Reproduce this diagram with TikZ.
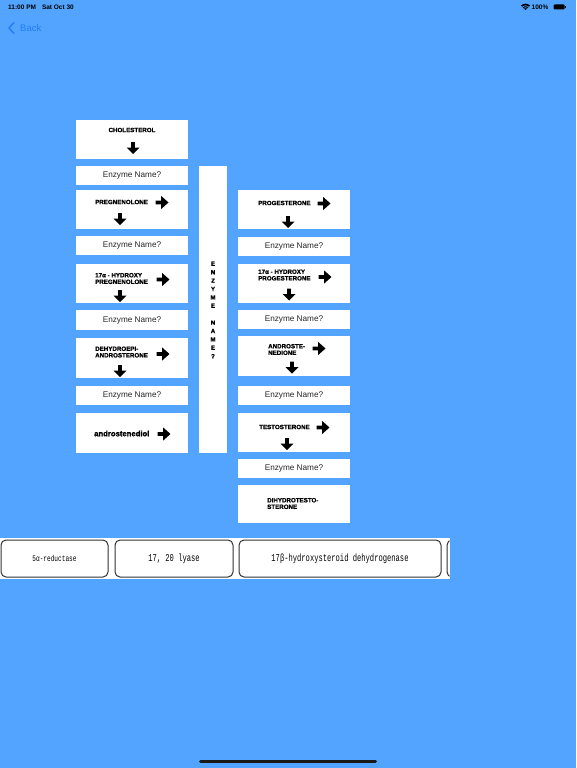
\documentclass[tikz,border=0pt]{standalone}
\usepackage{fontspec}
\setmainfont{Liberation Sans}
\newfontfamily\monofam{Liberation Mono}
\newfontfamily\heavyfam{Liberation Sans Bold}[FakeBold=1.2]
\definecolor{bgblue}{RGB}{82,164,255}
\definecolor{backblue}{RGB}{36,124,244}
\definecolor{btnborder}{RGB}{50,50,55}
\tikzset{
  wbox/.style={fill=white, draw=none, inner sep=0pt},
  chem/.style={font=\heavyfam\fontsize{6.2}{6.6}\selectfont, inner sep=0pt, align=left, anchor=west},
  enz/.style={font=\fontsize{8.2}{9}\selectfont, inner sep=0pt, text=black!85},
  btn/.style={draw=btnborder, line width=1pt, fill=white, rounded corners=5pt, inner sep=0pt, minimum height=37pt},
  rarr/.pic={\fill (-6.5,-1.9) -- (-0.8,-1.9) -- (-0.8,-6.5) -- (6.5,0) -- (-0.8,6.5) -- (-0.8,1.9) -- (-6.5,1.9) -- cycle;},
  darr/.pic={\fill (-1.9,-6) -- (-1.9,-0.5) -- (-6.5,-0.5) -- (0,6) -- (6.5,-0.5) -- (1.9,-0.5) -- (1.9,-6) -- cycle;}
}
\begin{document}
\begin{tikzpicture}[x=1pt,y=-1pt]
\useasboundingbox[fill=bgblue] (0,0) rectangle (576,768);

% status bar
\node[font=\fontsize{6.5}{7}\selectfont\bfseries, anchor=west, inner sep=0pt] (time) at (8,7) {11:00 PM\hspace{6pt}Sat Oct 30};
\node[font=\fontsize{6.5}{7}\selectfont\bfseries, anchor=west, inner sep=0pt] (batt) at (531.5,7) {100\%};
\fill (525.5,10.2) -- +(135:6.5pt) arc[start angle=135, end angle=45, radius=6.5pt] -- cycle;
\draw[bgblue, line width=0.6pt] (525.5,10.2) ++(135:2.6pt) arc[start angle=135, end angle=45, radius=2.6pt];
\draw[bgblue, line width=0.6pt] (525.5,10.2) ++(135:4.6pt) arc[start angle=135, end angle=45, radius=4.6pt];
\fill[rounded corners=1pt] (553.5,4.5) rectangle (564.5,9.5);
\fill (565.2,6) rectangle (566.2,8);

% back
\draw[backblue, line width=1.4pt, line cap=round, line join=round] (14,22.5) -- (9,28) -- (14,33.5);
\node[font=\fontsize{9.5}{10}\selectfont, text=backblue, anchor=west, inner sep=0pt] (back) at (20,28) {Back};

% left column
\node[wbox, minimum width=112, minimum height=39] (chol) at (132,139.5) {};
\node[wbox, minimum width=112, minimum height=19] (e1) at (132,175.5) {};
\node[wbox, minimum width=112, minimum height=39] (preg) at (132,209.5) {};
\node[wbox, minimum width=112, minimum height=19] (e2) at (132,245.5) {};
\node[wbox, minimum width=112, minimum height=39] (hp) at (132,283.5) {};
\node[wbox, minimum width=112, minimum height=20] (e3) at (132,320) {};
\node[wbox, minimum width=112, minimum height=40] (dhea) at (132,358) {};
\node[wbox, minimum width=112, minimum height=19] (e4) at (132,395.5) {};
\node[wbox, minimum width=112, minimum height=40] (adiol) at (132,433) {};

% middle column
\node[wbox, minimum width=28, minimum height=287] (mid) at (213,309.5) {};
\node[font=\heavyfam\fontsize{6}{8.4}\selectfont, align=center, inner sep=0pt] (midtxt) at (213,310) {E\\N\\Z\\Y\\M\\E\\[8.4pt]N\\A\\M\\E\\?};

% right column
\node[wbox, minimum width=112, minimum height=39] (prog) at (294,209.5) {};
\node[wbox, minimum width=112, minimum height=19] (e5) at (294,246) {};
\node[wbox, minimum width=112, minimum height=39] (hprog) at (294,283.5) {};
\node[wbox, minimum width=112, minimum height=19] (e6) at (294,319.5) {};
\node[wbox, minimum width=112, minimum height=40] (andro) at (294,356) {};
\node[wbox, minimum width=112, minimum height=19] (e7) at (294,395.5) {};
\node[wbox, minimum width=112, minimum height=39] (testo) at (294,432.5) {};
\node[wbox, minimum width=112, minimum height=19] (e8) at (294,468.5) {};
\node[wbox, minimum width=112, minimum height=38] (dht) at (294,504) {};

% enzyme labels
\foreach \n in {e1,e2,e3,e4,e5,e6,e7,e8}{\node[enz] at (\n) {Enzyme Name?};}

% chemical labels
\node[chem, anchor=center] (tchol) at (132,130) {CHOLESTEROL};
\node[chem] (tpreg) at (95,202) {PREGNENOLONE};
\node[chem] (thp) at (95,278.5) {17α - HYDROXY\\PREGNENOLONE};
\node[chem] (tdhea) at (95,352) {DEHYDROEPI-\\ANDROSTERONE};
\node[chem, font=\heavyfam\fontsize{7.7}{8}\selectfont] (tadiol) at (94,433.5) {androstenediol};
\node[chem] (tprog) at (258,203) {PROGESTERONE};
\node[chem] (thprog) at (258,275) {17α - HYDROXY\\PROGESTERONE};
\node[chem] (tandro) at (268,349.5) {ANDROSTE-\\NEDIONE};
\node[chem] (ttesto) at (259,427) {TESTOSTERONE};
\node[chem] (tdht) at (267,503.5) {DIHYDROTESTO-\\STERONE};

% arrows
\pic at (133,148) {darr};
\pic at (162,202.5) {rarr};
\pic at (120,219) {darr};
\pic at (163,279.5) {rarr};
\pic at (120,296) {darr};
\pic at (163,354) {rarr};
\pic at (120,371) {darr};
\pic at (164,434) {rarr};
\pic at (324,203.5) {rarr};
\pic at (288,222) {darr};
\pic at (325,277) {rarr};
\pic at (289,294.5) {darr};
\pic at (319,348.5) {rarr};
\pic at (292,367.5) {darr};
\pic at (323,427.5) {rarr};
\pic at (287,444) {darr};

% bottom strip
\fill[white] (0,538) rectangle (449.5,579);
\node[btn, minimum width=107] (b1) at (54.5,558.5) {\monofam\fontsize{8.5}{9}\selectfont\scalebox{0.72}[1]{5α-reductase}};
\node[btn, minimum width=118] (b2) at (174,558.5) {\monofam\fontsize{10.5}{11}\selectfont\scalebox{0.68}[1]{17, 20 lyase}};
\node[btn, minimum width=202] (b3) at (340,558.5) {\monofam\fontsize{10.5}{11}\selectfont\scalebox{0.68}[1]{17β-hydroxysteroid dehydrogenase}};
\begin{scope}
\clip (440,530) rectangle (449.5,585);
\node[btn, minimum width=60] (b4) at (477,558.5) {};
\end{scope}

% home indicator
\draw[line width=3pt, line cap=round, black!90] (200.5,761) coordinate (h1) -- (375.5,761) coordinate (h2);
\end{tikzpicture}
\end{document}
